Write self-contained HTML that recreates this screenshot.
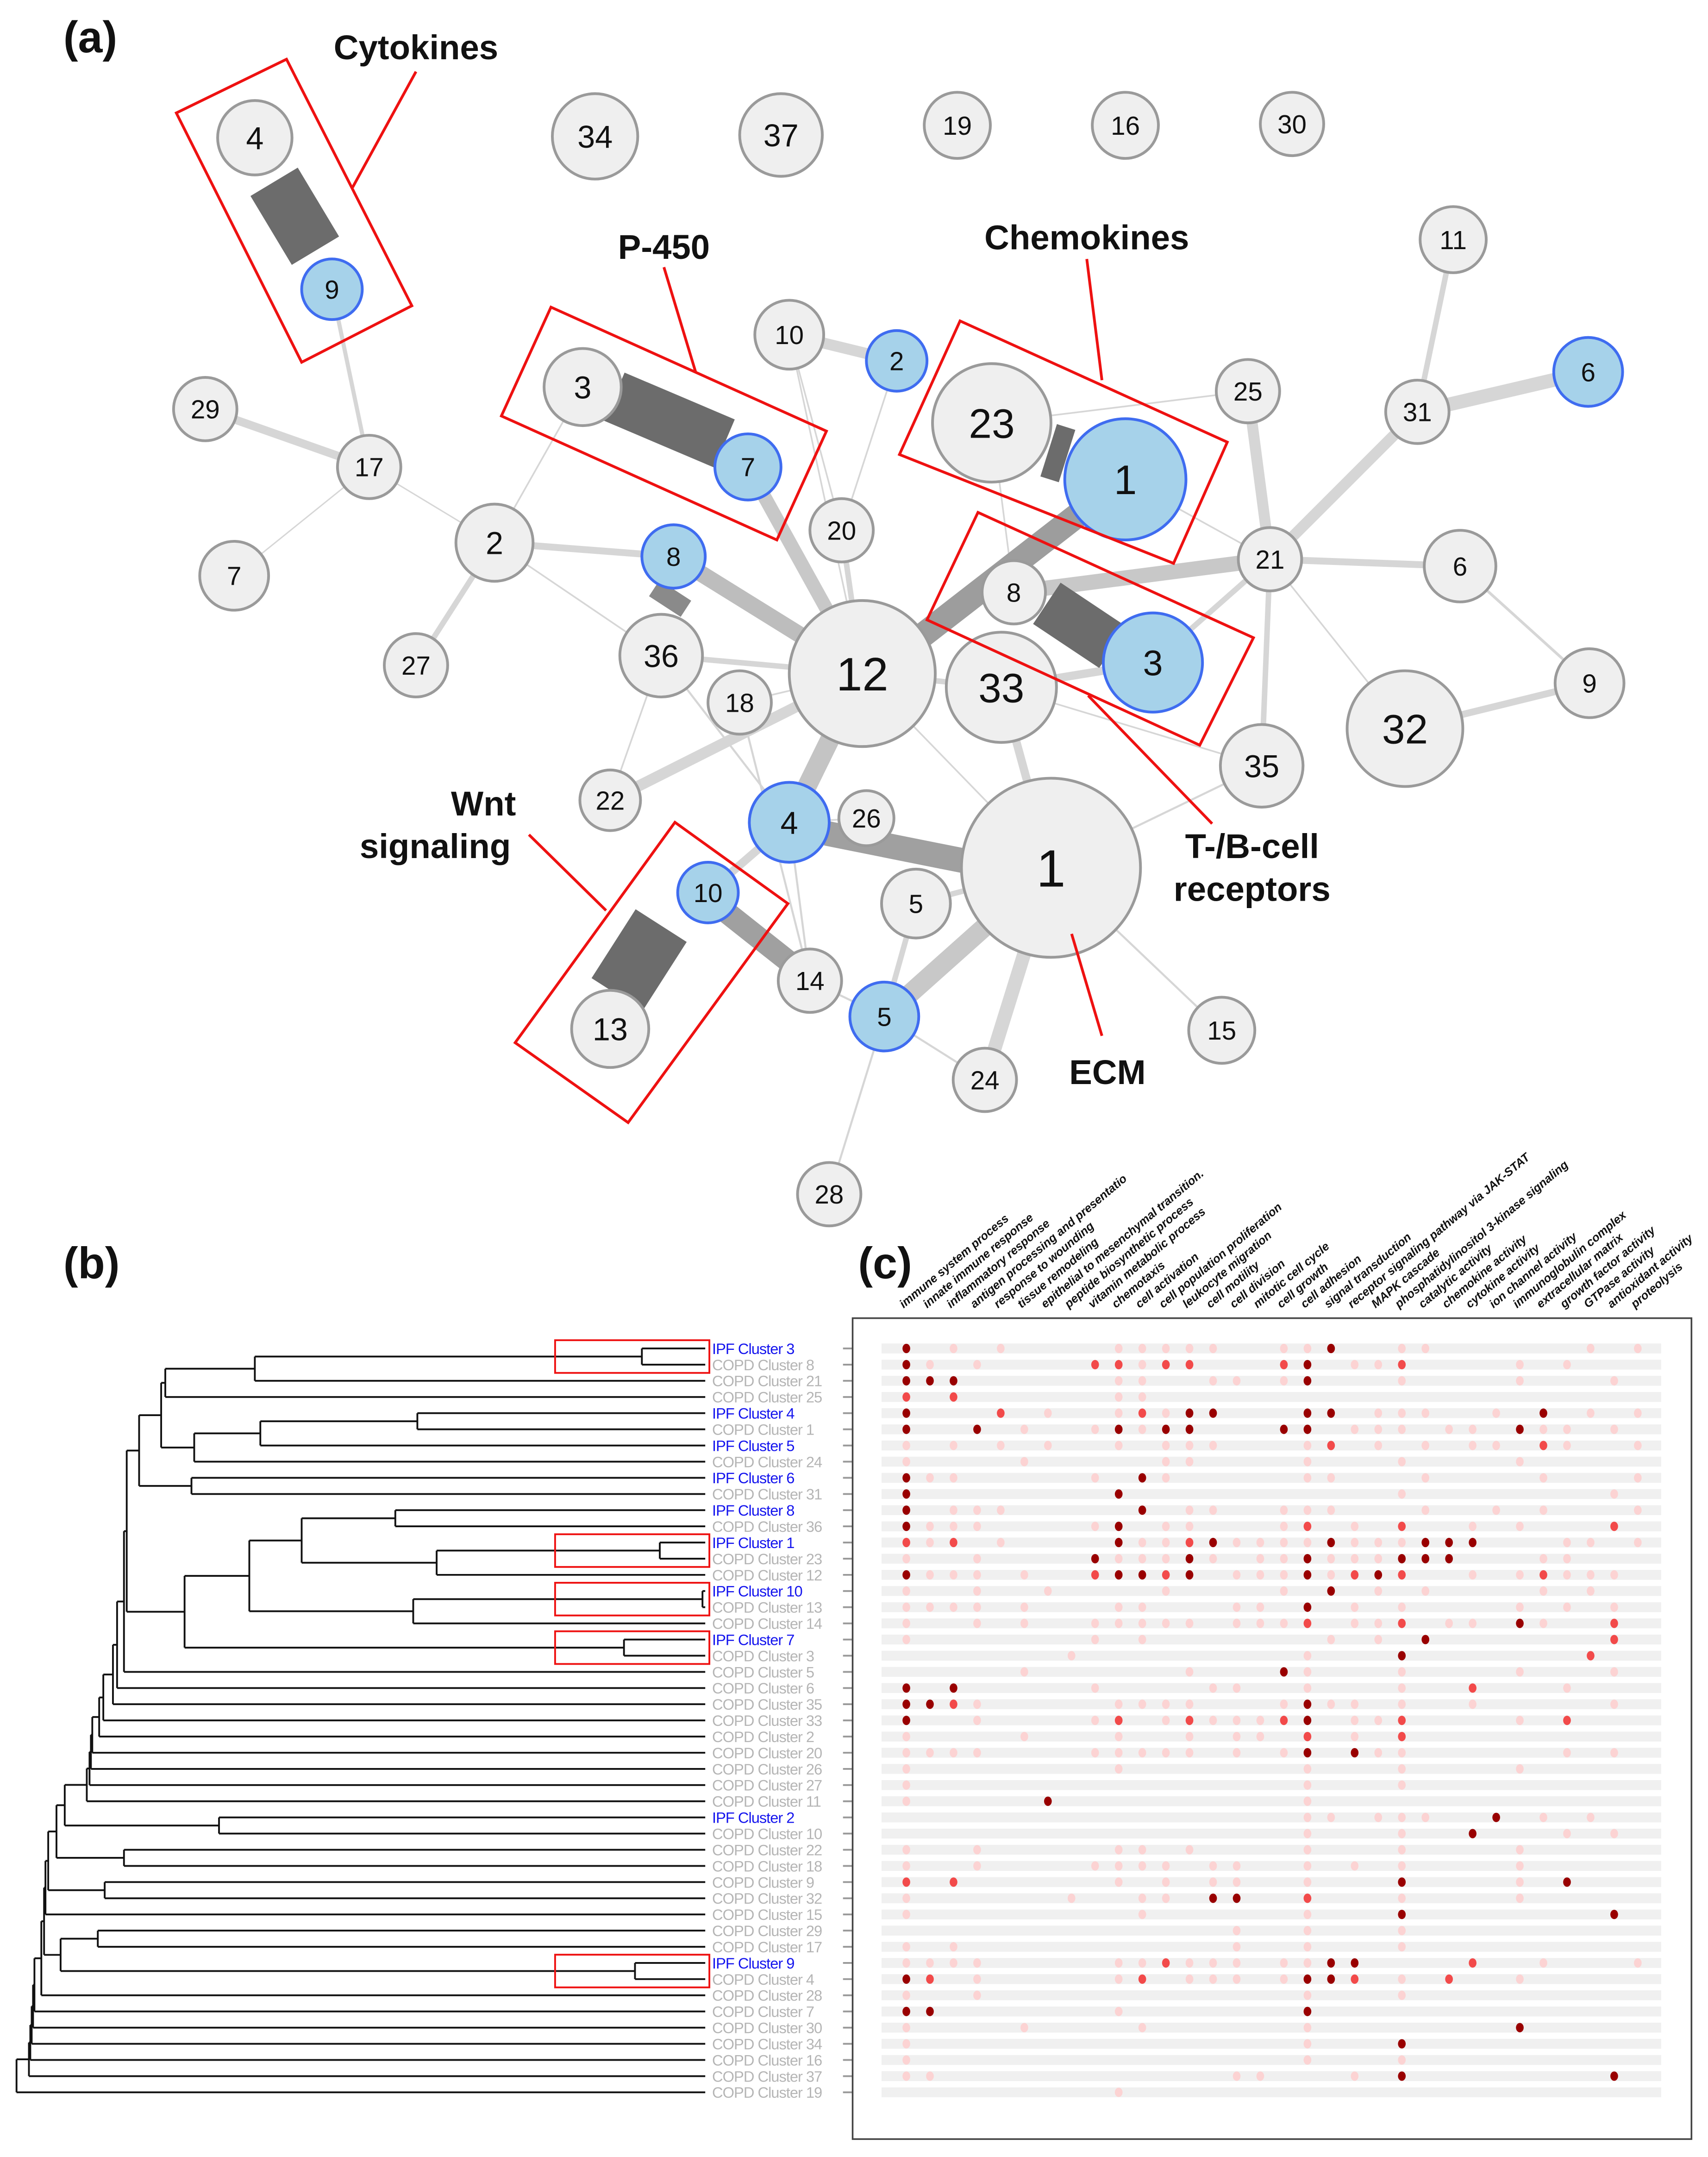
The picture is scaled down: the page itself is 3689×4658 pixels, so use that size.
<!DOCTYPE html>
<html><head><meta charset="utf-8"><style>html,body{margin:0;padding:0;background:#fff}svg{display:block}</style></head>
<body>
<svg id="s" xmlns="http://www.w3.org/2000/svg" width="3689" height="4658" viewBox="0 0 1240 1566" preserveAspectRatio="none" font-family="Liberation Sans, sans-serif">
<rect width="1240" height="1566" fill="#fff"/>
<g id="edges" stroke-linecap="butt" fill="none"></g>
<g id="nodes"></g>
<g fill="none" stroke="#ee1111" stroke-width="2">
<polygon points="128,82 208,43 299,222 219,263"/>
<polygon points="400,223 600,313 564,392 364,302"/>
<polygon points="697,233 891,321 852,409 653,330"/>
<polygon points="710,372 910,463 871,541 673,450"/>
<polygon points="490,597 572,656 456,815 374,757"/>
<line x1="302" y1="52" x2="256" y2="136"/>
<line x1="482" y1="194" x2="505" y2="270"/>
<line x1="789" y1="188" x2="800" y2="276"/>
<line x1="880" y1="598" x2="790" y2="505"/>
<line x1="384" y1="606" x2="440" y2="661"/>
<line x1="800" y1="752" x2="778" y2="678"/>
</g>
<g font-weight="bold" fill="#111" font-size="25" text-anchor="middle">
<text x="302" y="43">Cytokines</text>
<text x="482" y="188">P-450</text>
<text x="789" y="181">Chemokines</text>
<text x="909" y="623">T-/B-cell</text>
<text x="909" y="654">receptors</text>
<text x="351" y="592">Wnt</text>
<text x="316" y="623">signaling</text>
<text x="804" y="787">ECM</text>
</g>
<g font-weight="bold" fill="#111" font-size="32">
<text x="46" y="38">(a)</text>
<text x="46" y="928">(b)</text>
<text x="623" y="928">(c)</text>
</g>
<g id="dend"></g>
<g id="mat"></g>
</svg>
<script>
var NS="http://www.w3.org/2000/svg";
function el(p,t,a,txt){var e=document.createElementNS(NS,t);for(var k in a)e.setAttribute(k,a[k]);if(txt!==undefined)e.textContent=txt;p.appendChild(e);return e;}
var E=document.getElementById('edges'),N=document.getElementById('nodes');
// edges: x1,y1,x2,y2,w,color
var L='#d6d6d6';
var edges=[
[149,297,268,339,6,L],[268,339,170,418,1,L],[268,339,241,210,3,L],[268,339,359,394,1,L],
[359,394,302,483,4,L],[359,394,489,404,5,L],[359,394,480,476,1.2,L],[423,281,359,394,1.2,L],
[573,243,651,262,8,L],[573,243,626,489,1.2,L],[573,243,611,385,1.2,L],[651,262,611,385,1.2,L],
[1055,174,1029,299,4,L],[1029,299,1153,270,10,L],[1029,299,922,406,8,L],[922,406,1060,411,5,L],
[906,284,922,406,8,L],[922,406,1020,529,1.2,L],[922,406,916,556,4,L],[922,406,837,481,4,L],
[1060,411,1154,496,2,L],[1020,529,1154,496,5,L],[736,430,922,406,11,'#c8c8c8'],
[543,339,626,489,10,'#c8c8c8'],[489,404,626,489,12,'#bdbdbd'],[480,476,626,489,4,L],
[537,510,626,489,1.2,L],[611,385,626,489,4,L],[626,489,573,597,14,'#c4c4c4'],[626,489,727,499,4,L],
[443,581,626,489,8,L],[626,489,763,630,1.2,L],[727,499,837,481,6,L],[727,499,916,556,1.2,L],
[480,476,443,581,1.2,L],[720,307,736,430,1.2,L],[720,307,906,284,1.2,L],[817,348,922,406,1.2,L],
[763,630,642,738,14,'#c8c8c8'],[763,630,715,784,10,L],[763,630,727,499,6,L],[763,630,887,748,1.5,L],
[763,630,916,556,1.5,L],[763,630,665,656,4,L],[573,597,514,648,6,L],[573,597,629,594,1.2,L],
[588,712,642,738,1.5,L],[642,738,715,784,1.5,L],[642,738,602,867,1.5,L],[665,656,642,738,4,L],
[588,712,573,597,1.5,L],[480,476,573,597,1.5,L],[537,510,588,712,1.5,L],
// heavier gray bars
[665,465,790,368,18,'#9d9d9d'],[600,605,700,625,18,'#a0a0a0'],[527,662,575,700,16,'#a0a0a0'],
// dark rects
[199,132,229,182,40,'#6c6c6c'],[446,288,526,322,38,'#6c6c6c'],[774,310,762,348,14,'#6c6c6c'],
[760,438,808,470,36,'#6c6c6c'],[480,672,448,722,44,'#6c6c6c'],[475,427,498,442,14,'#8a8a8a']
];
edges.forEach(function(e){el(E,'line',{x1:e[0],y1:e[1],x2:e[2],y2:e[3],'stroke-width':e[4],stroke:e[5]});});
var nodes=[
[185,100,27,'4',0],[432,99,31,'34',0],[567,98,30,'37',0],[695,91,24,'19',0],[817,91,24,'16',0],[938,90,23,'30',0],
[1055,174,24,'11',0],[149,297,23,'29',0],[268,339,23,'17',0],[170,418,25,'7',0],[359,394,28,'2',0],[302,483,23,'27',0],
[423,281,28,'3',0],[573,243,25,'10',0],[611,385,23,'20',0],[720,307,43,'23',0],[906,284,23,'25',0],[1029,299,23,'31',0],
[922,406,23,'21',0],[1060,411,26,'6',0],[1154,496,25,'9',0],[1020,529,42,'32',0],[916,556,30,'35',0],[736,430,23,'8',0],
[480,476,30,'36',0],[537,510,23,'18',0],[626,489,53,'12',0],[727,499,40,'33',0],[443,581,22,'22',0],[629,594,20,'26',0],
[763,630,65,'1',0],[665,656,25,'5',0],[588,712,23,'14',0],[443,747,28,'13',0],[715,784,23,'24',0],[887,748,24,'15',0],
[602,867,23,'28',0],
[241,210,22,'9',1],[543,339,24,'7',1],[651,262,22,'2',1],[489,404,23,'8',1],[817,348,44,'1',1],[837,481,36,'3',1],
[573,597,29,'4',1],[514,648,22,'10',1],[642,738,25,'5',1],[1153,270,25,'6',1]
];
nodes.forEach(function(n){
 el(N,'circle',{cx:n[0],cy:n[1],r:n[2],fill:n[4]?'#a6d2ea':'#efefef',stroke:n[4]?'#3f6cf0':'#9a9a9a','stroke-width':2});
 var fs=n[2]>=60?38:n[2]>=50?34:n[2]>=40?30:n[2]>=35?26:n[2]>=27?23:19;
 el(N,'text',{x:n[0],y:n[1]+fs*0.36,'font-size':fs,'text-anchor':'middle',fill:'#111'},n[3]);
});
// dendrogram
var D=document.getElementById('dend');
function Y(i){return 979+i*11.74;}
function Lf(i){return {x:512,y:Y(i)};}
function ln(x1,y1,x2,y2){el(D,'line',{x1:x1,y1:y1,x2:x2,y2:y2,stroke:'#111','stroke-width':1.3});}
function M(a,b,x){ln(x,a.y,x,b.y);ln(x,a.y,a.x,a.y);ln(x,b.y,b.x,b.y);return {x:x,y:(a.y+b.y)/2};}
var A=M(Lf(0),Lf(1),466),B=M(A,Lf(2),185),C=M(B,Lf(3),120);
var Dd=M(Lf(4),Lf(5),303),Ee=M(Dd,Lf(6),189),F=M(Ee,Lf(7),141),G1=M(C,F,117);
var H=M(Lf(8),Lf(9),139),I=M(G1,H,101);
var J=M(Lf(10),Lf(11),287),K=M(Lf(12),Lf(13),479),K2=M(K,Lf(14),317),JK=M(J,K2,219);
var Nn=M(Lf(15),Lf(16),510),N2=M(Nn,Lf(17),300),O=M(JK,N2,181);
var P=M(Lf(18),Lf(19),453),Q=M(O,P,134);
var R=M(I,Q,92);
[[20,90],[21,85],[22,82],[23,75],[24,72],[25,67],[26,66],[27,65],[28,63]].forEach(function(c){R=M(R,Lf(c[0]),c[1]);});
var S=M(Lf(29),Lf(30),159),T=M(R,S,47),U=M(Lf(31),Lf(32),90);T=M(T,U,41);
var V=M(Lf(33),Lf(34),76);T=M(T,V,35);T=M(T,Lf(35),33);
var W=M(Lf(36),Lf(37),71),X=M(Lf(38),Lf(39),461),WX=M(W,X,44);T=M(T,WX,32);
[[40,30],[41,25],[42,24],[43,23],[44,22],[45,21],[46,12]].forEach(function(c){T=M(T,Lf(c[0]),c[1]);});
var names=['IPF Cluster 3','COPD Cluster 8','COPD Cluster 21','COPD Cluster 25','IPF Cluster 4','COPD Cluster 1','IPF Cluster 5','COPD Cluster 24','IPF Cluster 6','COPD Cluster 31','IPF Cluster 8','COPD Cluster 36','IPF Cluster 1','COPD Cluster 23','COPD Cluster 12','IPF Cluster 10','COPD Cluster 13','COPD Cluster 14','IPF Cluster 7','COPD Cluster 3','COPD Cluster 5','COPD Cluster 6','COPD Cluster 35','COPD Cluster 33','COPD Cluster 2','COPD Cluster 20','COPD Cluster 26','COPD Cluster 27','COPD Cluster 11','IPF Cluster 2','COPD Cluster 10','COPD Cluster 22','COPD Cluster 18','COPD Cluster 9','COPD Cluster 32','COPD Cluster 15','COPD Cluster 29','COPD Cluster 17','IPF Cluster 9','COPD Cluster 4','COPD Cluster 28','COPD Cluster 7','COPD Cluster 30','COPD Cluster 34','COPD Cluster 16','COPD Cluster 37','COPD Cluster 19'];
names.forEach(function(n,i){var ipf=n[0]=='I';
 el(D,'text',{x:517,y:Y(i)+4,'font-size':11,fill:ipf?'#1515ee':'#b5b5b5','letter-spacing':'-0.35'},n);
 el(D,'line',{x1:612,y1:Y(i),x2:619,y2:Y(i),stroke:'#999','stroke-width':1.3});
});
[[0,1],[12,13],[15,16],[18,19],[38,39]].forEach(function(p){
 el(D,'rect',{x:403,y:Y(p[0])-6,width:112,height:Y(p[1])-Y(p[0])+12,fill:'none',stroke:'#ee1111','stroke-width':1.3});
});
// matrix
var Mg=document.getElementById('mat');
el(Mg,'rect',{x:619,y:957,width:609,height:596,fill:'none',stroke:'#444','stroke-width':1.2});
var rows=[
'd0 l2 l4 l9 l10 l11 l12 l13 l16 l17 d18 l21 l22 l29 l31',
'd0 l1 l3 m8 m9 l10 m11 m12 m16 d17 l19 l20 m21 l26 l28',
'd0 d1 d2 l9 l10 l13 l14 l16 d17 l21 l26 l30',
'm0 m2 l9 l10',
'd0 m4 l6 l9 m10 l11 d12 d13 d17 d18 l20 l21 l22 l25 d27 l29 l31',
'd0 d3 l5 l8 d9 l10 d11 d12 d16 d17 l19 l20 l21 l23 l24 d26 l27 l28 l30',
'l0 l2 l4 l6 l9 l11 l12 l13 l17 m18 l20 l22 l24 l25 m27 l28 l31',
'l0 l5 l11 l12 l17 l21 l26',
'd0 l1 l2 l8 d10 l11 l17 l18 l22 l27 l31',
'd0 d9 l21 l30',
'd0 l2 l3 l4 d10 l12 l13 l16 l17 l18 l22 l25 l27 l31',
'd0 l1 l2 l3 l8 d9 l11 l12 l16 m17 l19 m21 l24 l26 m30',
'm0 l1 m2 l4 d9 l10 l11 m12 d13 l14 l15 l16 l17 d18 l19 l20 l21 d22 d23 d24 l28 l29 l31',
'l0 l3 d8 l9 l10 l11 d12 l13 l15 l16 d17 l18 l19 l20 d21 d22 d23 l27 l28',
'd0 l1 l2 l3 l5 m8 d9 d10 m11 d12 l14 l15 l16 d17 l18 m19 d20 m21 l24 l26 m27 l28 l29 l30',
'l0 l3 l6 l11 l16 d18 l20 l22 l27 l29',
'l0 l1 l2 l3 l5 l9 l10 l14 l15 d17 l19 l21 l26 l28 l30',
'l0 l3 l5 l8 l9 l10 l11 l12 l14 l15 l16 m17 l19 l20 m21 l23 l24 d26 l27 m30',
'l0 l8 l10 l18 l20 d22 m30',
'l7 l17 d21 m29',
'l5 l12 d16 l17 l21 l26 l30',
'd0 d2 l8 l13 l14 l17 l21 m24 l28',
'd0 d1 m2 l3 l9 l10 l11 l12 l16 d17 l18 l19 l21 l24 l30',
'd0 l3 l8 m9 l11 m12 l13 l14 l15 m16 d17 l19 l20 m21 l26 m28',
'l0 l5 l9 l12 l14 l15 m17 l19 m21',
'l0 l1 l2 l3 l8 l9 l10 l11 l12 l14 l16 d17 d19 l20 l21 l28 l30',
'l0 l9 l17 l21 l26',
'l0 l17 l21',
'l0 d6 l17',
'l17 l18 l20 l21 l22 d25 l27 l29',
'l17 l21 d24 l28 l30',
'l0 l3 l9 l10 l12 l17 l21 l26',
'l0 l3 l8 l9 l10 l11 l13 l14 l17 l19 l21 l26',
'm0 m2 l9 l11 l13 l14 l17 d21 l26 d28',
'l0 l7 l10 l11 d13 d14 m17 l21 l26',
'l0 l10 l17 d21 d30',
'l14 l17 l21',
'l0 l2 l14 l17 l21',
'l0 l1 l2 l3 l9 l10 m11 l12 l13 l14 l16 l17 d18 d19 m24 l27 l31',
'd0 m1 l3 l9 m10 l12 l13 l14 l16 d17 d18 m19 l21 m23 l26',
'l0 l3 l17 l21',
'd0 d1 l9 d17',
'l0 l5 l10 l17 d26',
'l0 l17 d21',
'l0 l17 l21',
'l0 l1 l14 l15 l19 d21 d30',
'l9'
];
var col={d:'#990000',m:'#f24a4a',l:'#fcd3d3'};
rows.forEach(function(r,i){
 var y=Y(i);
 el(Mg,'rect',{x:640,y:y-3.6,width:566,height:7.2,fill:'#f0f0f0'});
 r.split(' ').forEach(function(t){var c=parseInt(t.slice(1));
  el(Mg,'ellipse',{cx:658+c*17.13,cy:y,rx:2.8,ry:3.4,fill:col[t[0]]});});
});
var terms=['immune system process','innate immune response','inflammatory response','antigen processing and presentatio','response to wounding','tissue remodeling','epithelial to mesenchymal transition.','peptide biosynthetic process','vitamin metabolic process','chemotaxis','cell activation','cell population proliferation','leukocyte migration','cell motility','cell division','mitotic cell cycle','cell growth','cell adhesion','signal transduction','receptor signaling pathway via JAK-STAT','MAPK cascade','phosphatidylinositol 3-kinase signaling','catalytic activity','chemokine activity','cytokine activity','ion channel activity','immunoglobulin complex','extracellular matrix','growth factor activity','GTPase activity','antioxidant activity','proteolysis'];
terms.forEach(function(t,i){var x=656+i*17.13,y=950;
 el(Mg,'text',{x:x,y:y,'font-size':8.6,'font-weight':'bold','font-style':'italic',fill:'#111',transform:'rotate(-40 '+x+' '+y+')'},t);
});
</script>
</body></html>
